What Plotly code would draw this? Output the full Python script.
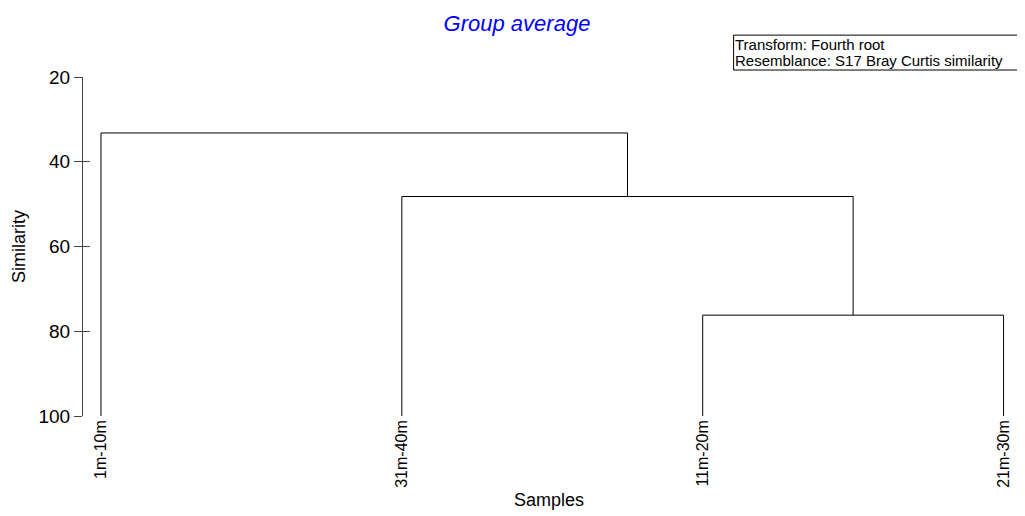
import plotly.graph_objects as go

# ---- data ----
leaf_labels = ["1m-10m", "31m-40m", "11m-20m", "21m-30m"]
leaf_pos = [0, 1, 2, 3]
# merges: (left node, right node, similarity); nodes 0..3 are leaves, 4.. merged clusters
merge_left = [2, 1, 0]
merge_right = [3, 4, 5]
merge_sim = [76.2, 48.2, 33.2]
y_ticks = [20, 40, 60, 80, 100]
legend_lines = ["Transform: Fourth root", "Resemblance: S17 Bray Curtis similarity"]

FONT = "Liberation Sans, Arial, sans-serif"
W, H = 1017, 508          # page has an 8px body margin
L, R, T, B = 73, 10, 69, 99
PW, PH = W - L - R, H - T - B

# build dendrogram segments from the merge table
node_x = {i: leaf_pos[i] for i in range(len(leaf_labels))}
node_y = {i: 100.0 for i in range(len(leaf_labels))}
xs, ys = [], []
for k, (a, b, s) in enumerate(zip(merge_left, merge_right, merge_sim)):
    xs += [node_x[a], node_x[a], node_x[b], node_x[b], None]
    ys += [node_y[a], s, s, node_y[b], None]
    nid = len(leaf_labels) + k
    node_x[nid] = (node_x[a] + node_x[b]) / 2
    node_y[nid] = s

fig = go.Figure()
fig.add_trace(go.Scatter(x=xs, y=ys, mode="lines",
                         line=dict(color="black", width=1),
                         hoverinfo="skip", showlegend=False))
fig.add_trace(go.Scatter(x=[leaf_pos[0]], y=[100], yaxis="y2", mode="markers",
                         marker=dict(opacity=0), showlegend=False, hoverinfo="skip"))

def px(xpage):  # page x -> paper x
    return (xpage - 8 - L) / PW

def py(ypage):  # page y -> paper y
    return (H - B - (ypage - 8)) / PH

annos = []
for line, yc in zip(legend_lines, [44.5, 60.5]):
    annos.append(dict(text=line, xref="paper", yref="paper", x=px(732), y=py(yc),
                      xanchor="left", yanchor="middle", align="left", showarrow=False,
                      font=dict(family=FONT, size=15, color="black")))

fig.update_layout(
    width=W, height=H,
    margin=dict(l=L, r=R, t=T, b=B),
    plot_bgcolor="white", paper_bgcolor="white",
    title=dict(text="<i>Group average</i>", x=(517 - 8) / W, xref="container", xanchor="center",
               y=1 - (23 - 8) / H, yref="container", yanchor="middle",
               font=dict(family=FONT, size=22, color="#0000ff")),
    xaxis=dict(range=[-0.0597, 3.038], tickmode="array", tickvals=leaf_pos,
               ticktext=leaf_labels, tickangle=-90, showgrid=False, zeroline=False,
               showline=False, ticks="", tickfont=dict(family=FONT, size=16, color="black"),
               title=dict(text="Samples", font=dict(family=FONT, size=18, color="black"),
                          standoff=6)),
    yaxis=dict(range=[100, 20], tickmode="array", tickvals=y_ticks, showgrid=False,
               zeroline=False, showline=True, linecolor="#444444", linewidth=1,
               ticks="outside", ticklen=8, tickcolor="#444444",
               tickfont=dict(family=FONT, size=19, color="black"),
               title=dict(text="Similarity", font=dict(family=FONT, size=18, color="black"),
                          standoff=8)),
    yaxis2=dict(range=[100, 20], overlaying="y", side="left", tickmode="array",
                tickvals=y_ticks, showticklabels=False, ticks="inside", ticklen=7,
                tickcolor="#444444", showgrid=False, zeroline=False, showline=False),
    shapes=[dict(type="rect", xref="paper", yref="paper",
                 x0=px(733), x1=px(1022), y0=py(70), y1=py(35),
                 line=dict(color="black", width=1), fillcolor="rgba(0,0,0,0)")],
    annotations=annos,
)

fig.write_html("out.html")
